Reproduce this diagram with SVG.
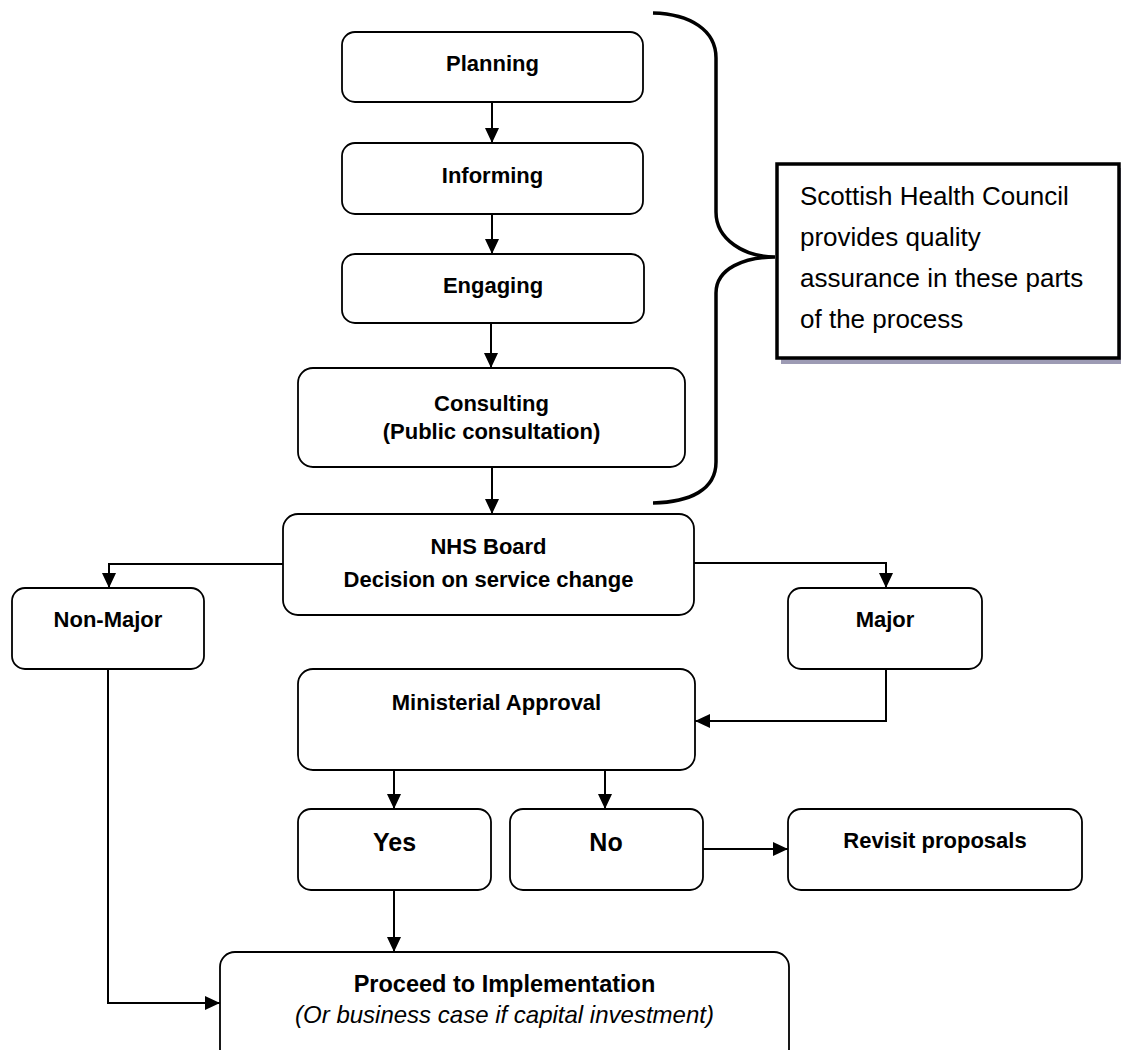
<svg xmlns="http://www.w3.org/2000/svg" width="1121" height="1050" viewBox="0 0 1121 1050">
<style>
.box{fill:#fff;stroke:#000;stroke-width:1.8}
.lbl{font-family:"Liberation Sans",Arial,sans-serif;font-weight:bold;font-size:22px;text-anchor:middle;fill:#000}
.big{font-size:25px}
.pro{font-size:23.5px}
.it{font-family:"Liberation Sans",Arial,sans-serif;font-style:italic;font-size:24px;text-anchor:middle;fill:#000}
.note{font-family:"Liberation Sans",Arial,sans-serif;font-size:26px;fill:#000}
.conn{fill:none;stroke:#000;stroke-width:2;marker-end:url(#arr)}
.brace{fill:none;stroke:#000;stroke-width:3.5}
</style>
<defs>
<marker id="arr" viewBox="0 0 15 14" refX="15" refY="7" markerWidth="15" markerHeight="14" markerUnits="userSpaceOnUse" orient="auto">
<path d="M0,0 L15,7 L0,14 z" fill="#000"/>
</marker>
</defs>
<rect width="1121" height="1050" fill="#fff"/>

<g id="planning"><rect class="box" x="342" y="32" width="301" height="70" rx="13"/><text class="lbl" x="492.5" y="71">Planning</text></g>
<g id="informing"><rect class="box" x="342" y="143" width="301" height="71" rx="13"/><text class="lbl" x="492.5" y="183">Informing</text></g>
<g id="engaging"><rect class="box" x="342" y="254" width="302" height="69" rx="13"/><text class="lbl" x="493" y="293">Engaging</text></g>
<g id="consulting"><rect class="box" x="298" y="368" width="387" height="99" rx="15"/><text class="lbl" x="491.5" y="411">Consulting</text><text class="lbl" x="491.5" y="439">(Public consultation)</text></g>
<g id="nhs"><rect class="box" x="283" y="514" width="411" height="101" rx="15"/><text class="lbl" x="488.5" y="554">NHS Board</text><text class="lbl" x="488.5" y="587">Decision on service change</text></g>
<g id="nonmajor"><rect class="box" x="12" y="588" width="192" height="81" rx="13"/><text class="lbl" x="108" y="627">Non-Major</text></g>
<g id="major"><rect class="box" x="788" y="588" width="194" height="81" rx="13"/><text class="lbl" x="885" y="627">Major</text></g>
<g id="ministerial"><rect class="box" x="298" y="669" width="397" height="101" rx="15"/><text class="lbl" x="496.5" y="710">Ministerial Approval</text></g>
<g id="yes"><rect class="box" x="298" y="809" width="193" height="81" rx="13"/><text class="lbl big" x="394.5" y="851">Yes</text></g>
<g id="no"><rect class="box" x="510" y="809" width="193" height="81" rx="13"/><text class="lbl big" x="606" y="851">No</text></g>
<g id="revisit"><rect class="box" x="788" y="809" width="294" height="81" rx="13"/><text class="lbl" x="935" y="848">Revisit proposals</text></g>
<g id="proceed"><rect class="box" x="220" y="952" width="569" height="112" rx="15"/><text class="lbl pro" x="504.5" y="992">Proceed to Implementation</text><text class="it" x="504.5" y="1023">(Or business case if capital investment)</text></g>

<g id="shc">
<rect x="781" y="168" width="342" height="196" fill="#9d9bb4"/>
<rect x="777" y="164" width="342" height="194" fill="#fff" stroke="#000" stroke-width="3.5"/>
<text class="note" x="800" y="205">Scottish Health Council</text>
<text class="note" x="800" y="246">provides quality</text>
<text class="note" x="800" y="287">assurance in these parts</text>
<text class="note" x="800" y="328">of the process</text>
</g>

<g id="brace">
<path class="brace" d="M653,13 C690,14 716,30 716,58 L716,212 C716,240 745,257 775,257 C745,257 716,268 716,293 L716,462 C716,490 690,502 653,503"/>
</g>

<g id="connectors">
<path class="conn" d="M492,102 L492,143"/>
<path class="conn" d="M492,214 L492,254"/>
<path class="conn" d="M491,323 L491,368"/>
<path class="conn" d="M492,467 L492,514"/>
<path class="conn" d="M283,564 L109,564 L109,588"/>
<path class="conn" d="M694,563 L886,563 L886,588"/>
<path class="conn" d="M886,669 L886,721 L695,721"/>
<path class="conn" d="M394,770 L394,809"/>
<path class="conn" d="M605,770 L605,809"/>
<path class="conn" d="M703,849 L788,849"/>
<path class="conn" d="M394,890 L394,952"/>
<path class="conn" d="M108,669 L108,1003 L220,1003"/>
</g>
</svg>
